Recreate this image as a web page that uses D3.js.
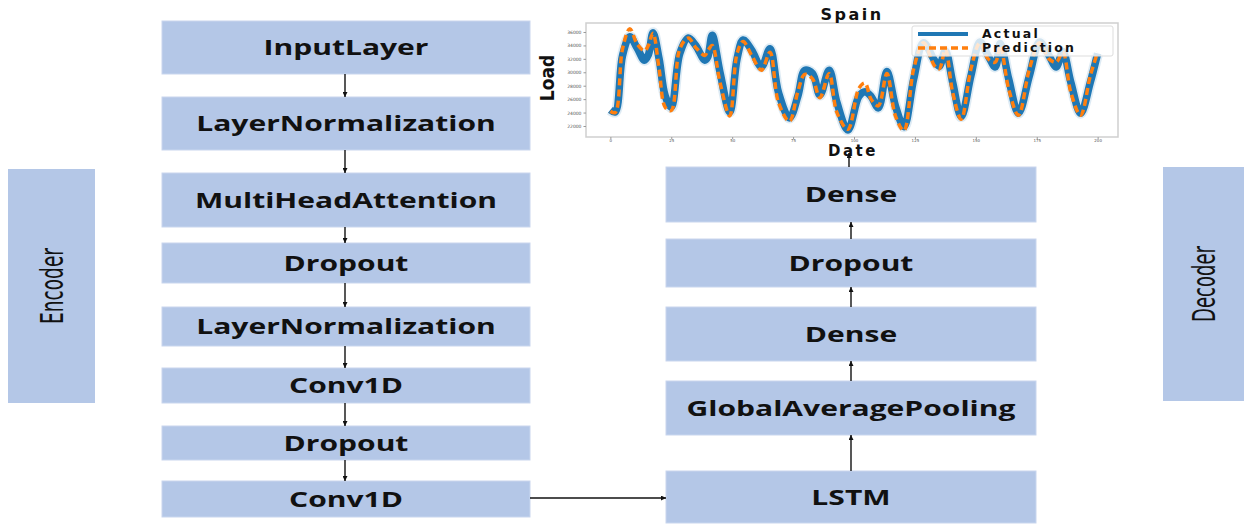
<!DOCTYPE html>
<html>
<head>
<meta charset="utf-8">
<script src="https://cdn.jsdelivr.net/npm/d3@7"></script>
<style>
  body { margin: 0; background: #fff; }
  svg { display: block; }
</style>
</head>
<body>
<svg id="fig" width="1244" height="525"></svg>
<script>
// encoder / decoder layers
const encoderLayers = ["InputLayer", "LayerNormalization", "MultiHeadAttention", "Dropout",
  "LayerNormalization", "Conv1D", "Dropout", "Conv1D"];
const decoderLayers = ["Dense", "Dropout", "Dense", "GlobalAveragePooling", "LSTM"];

// inset chart data (Spain load)
const dates = [0, 2, 5, 8, 11, 14, 15.6, 17.5, 20, 22.5, 25, 28.5, 32, 35, 38.8, 40, 41.8, 45, 49, 52,
  54.5, 58, 62, 65.5, 69, 73.5, 77, 79.8, 83, 86, 89.8, 93, 97.5, 102, 104.5, 107, 110, 113.5, 117,
  120.5, 124.5, 128.5, 133, 135, 137.5, 140.5, 144, 148, 151.7, 155, 158, 160, 163.5, 167.5, 172,
  176.2, 180, 183, 185.7, 189, 193, 197, 200];
const actual = [24400, 24100, 32500, 35300, 33600, 31800, 32600, 35900, 32000, 26500, 24800, 32800,
  35100, 34000, 31800, 32300, 35500, 30000, 24100, 32000, 34800, 33300, 30800, 33500, 27000, 23200,
  26500, 30300, 29800, 26600, 30300, 25500, 21400, 26400, 27100, 26400, 24700, 30100, 25000, 21900,
  29000, 34400, 31800, 30900, 33200, 28500, 23400, 29500, 34500, 32500, 30800, 34300, 29000, 23900,
  29500, 34500, 32500, 30800, 33100, 28500, 23900, 28500, 32800];
const prediction = [24200, 24000, 33500, 36500, 34200, 33200, 34000, 35800, 30500, 24800, 24300, 33500,
  35100, 33700, 32500, 33200, 34000, 28500, 23500, 32800, 34600, 32500, 30300, 33000, 25500, 22700,
  27200, 29700, 29000, 26200, 29800, 24000, 21500, 27600, 28400, 26000, 25000, 29800, 23500, 21300,
  30500, 34400, 31000, 30500, 33400, 27000, 23000, 30500, 34400, 32000, 31500, 34000, 27500, 23600,
  30500, 34400, 32000, 31500, 33000, 27000, 23600, 29500, 33000];
const xTicks = [0, 25, 50, 75, 100, 125, 150, 175, 200];
const yTicks = [22000, 24000, 26000, 28000, 30000, 32000, 34000, 36000];

const svg = d3.select("#fig");
const boxFill = "#b4c7e7";
const stretch = 1.43;

svg.append("defs").append("marker")
  .attr("id", "head")
  .attr("viewBox", "0 0 10 10")
  .attr("refX", 10).attr("refY", 5)
  .attr("markerWidth", 5).attr("markerHeight", 5)
  .attr("markerUnits", "userSpaceOnUse")
  .attr("orient", "auto")
  .append("path").attr("d", "M0,0L10,5L0,10Z").attr("fill", "#111");

function stretchText(sel, factor) {
  sel.each(function() {
    const w = this.getComputedTextLength();
    d3.select(this).attr("textLength", w * factor).attr("lengthAdjust", "spacingAndGlyphs");
  });
}

function drawLayer(x0, x1, y0, y1, name) {
  svg.append("rect")
    .attr("x", x0).attr("y", y0)
    .attr("width", x1 - x0).attr("height", y1 - y0)
    .attr("fill", boxFill)
    .attr("stroke", "#c9d6ee").attr("stroke-width", 1);
  svg.append("text")
    .attr("x", (x0 + x1) / 2).attr("y", (y0 + y1) / 2 + 7.5)
    .attr("text-anchor", "middle")
    .attr("font-family", "'Open Sans', sans-serif")
    .attr("font-weight", 700)
    .attr("font-size", 21)
    .attr("fill", "#111")
    .text(name)
    .call(stretchText, stretch);
}

function arrow(x1, y1, x2, y2) {
  svg.append("line")
    .attr("x1", x1).attr("y1", y1).attr("x2", x2).attr("y2", y2)
    .attr("stroke", "#111").attr("stroke-width", 1.4)
    .attr("marker-end", "url(#head)");
}

// encoder column
const encRows = [[21, 74], [97, 150], [173, 227], [243, 283], [307, 346], [368, 403], [426, 460], [481, 517]];
encoderLayers.forEach((name, i) => {
  drawLayer(162, 530, encRows[i][0], encRows[i][1], name);
  if (i > 0) arrow(345, encRows[i - 1][1], 345, encRows[i][0]);
});

// decoder column
const decRows = [[167, 222], [239, 287], [307, 361], [381, 435], [471, 523]];
decoderLayers.forEach((name, i) => {
  drawLayer(666, 1036, decRows[i][0], decRows[i][1], name);
  if (i > 0) arrow(851, decRows[i][0], 851, decRows[i - 1][1]);
});
arrow(530, 498, 666, 498);
arrow(849, 167, 849, 153);

// side labels
function sideBox(x0, x1, y0, y1, label) {
  svg.append("rect")
    .attr("x", x0).attr("y", y0)
    .attr("width", x1 - x0).attr("height", y1 - y0)
    .attr("fill", boxFill);
  const cx = (x0 + x1) / 2, cy = (y0 + y1) / 2;
  svg.append("text")
    .attr("transform", `translate(${cx + 11},${cy}) rotate(-90)`)
    .attr("text-anchor", "middle")
    .attr("font-family", "'Liberation Sans Narrow', 'DejaVu Sans Condensed', sans-serif")
    .attr("font-size", 32)
    .attr("fill", "#111")
    .text(label)
    .attr("textLength", 76).attr("lengthAdjust", "spacingAndGlyphs");
}
sideBox(8, 95, 169, 403, "Encoder");
sideBox(1163, 1244, 167, 401, "Decoder");

// inset chart
const plot = { left: 586, right: 1118, top: 23, bottom: 137 };
const x = d3.scaleLinear().domain([-10, 210]).range([plot.left, plot.right + 4]);
const y = d3.scaleLinear().domain([20360, 37340]).range([plot.bottom, plot.top]);

const chart = svg.append("g");
chart.append("rect")
  .attr("x", plot.left).attr("y", plot.top)
  .attr("width", plot.right - plot.left).attr("height", plot.bottom - plot.top)
  .attr("fill", "#fff").attr("stroke", "#cfcfcf").attr("stroke-width", 1.5);

chart.append("g")
  .attr("transform", `translate(0,${plot.bottom})`)
  .call(d3.axisBottom(x).tickValues(xTicks).tickSize(2).tickPadding(0.5))
  .call(g => g.select(".domain").remove())
  .call(g => g.selectAll("line").attr("stroke", "#999"))
  .call(g => g.selectAll("text").attr("font-size", 4).attr("fill", "#555").attr("font-family", "DejaVu Sans"));

chart.append("g")
  .attr("transform", `translate(${plot.left},0)`)
  .call(d3.axisLeft(y).tickValues(yTicks).tickSize(2.5).tickPadding(2).tickFormat(d3.format("d")))
  .call(g => g.select(".domain").remove())
  .call(g => g.selectAll("line").attr("stroke", "#999"))
  .call(g => g.selectAll("text").attr("font-size", 4.5).attr("fill", "#555").attr("font-family", "DejaVu Sans"));

const line = d3.line()
  .x((d, i) => x(dates[i]))
  .y(d => y(d))
  .curve(d3.curveCatmullRom.alpha(0.5));

chart.append("path").datum(actual)
  .attr("d", line).attr("fill", "none")
  .attr("stroke", "#1f77b4").attr("stroke-opacity", 0.15)
  .attr("stroke-width", 11).attr("stroke-linejoin", "round");
chart.append("path").datum(actual)
  .attr("d", line).attr("fill", "none")
  .attr("stroke", "#1f77b4").attr("stroke-width", 7.5).attr("stroke-linejoin", "round");
chart.append("path").datum(prediction)
  .attr("d", line).attr("fill", "none")
  .attr("stroke", "#ff7f0e").attr("stroke-width", 3.5)
  .attr("stroke-dasharray", "7,4");

// legend
const lg = chart.append("g");
lg.append("rect")
  .attr("x", 912).attr("y", 26).attr("width", 201).attr("height", 30).attr("rx", 2)
  .attr("fill", "#fff").attr("fill-opacity", 0.8).attr("stroke", "#ddd");
lg.append("line").attr("x1", 918).attr("x2", 968).attr("y1", 34).attr("y2", 34)
  .attr("stroke", "#1f77b4").attr("stroke-width", 4);
lg.append("line").attr("x1", 918).attr("x2", 968).attr("y1", 48).attr("y2", 48)
  .attr("stroke", "#ff7f0e").attr("stroke-width", 3.5).attr("stroke-dasharray", "7,4");
[["Actual", 38], ["Prediction", 52]].forEach(([t, ty]) => {
  lg.append("text").attr("x", 982).attr("y", ty)
    .attr("font-family", "DejaVu Sans").attr("font-weight", 700)
    .attr("font-size", 12.5).attr("letter-spacing", 2.2).attr("fill", "#111")
    .text(t);
});

// chart labels
chart.append("text").attr("x", 852).attr("y", 20)
  .attr("text-anchor", "middle").attr("font-family", "DejaVu Sans").attr("font-weight", 700)
  .attr("font-size", 16).attr("letter-spacing", 2.5).attr("fill", "#111").text("Spain");
chart.append("text").attr("x", 853).attr("y", 156)
  .attr("text-anchor", "middle").attr("font-family", "DejaVu Sans").attr("font-weight", 700)
  .attr("font-size", 15).attr("letter-spacing", 2.5).attr("fill", "#111").text("Date");
chart.append("text")
  .attr("transform", "translate(554,78) rotate(-90)")
  .attr("text-anchor", "middle")
  .attr("font-family", "'Liberation Sans Narrow', 'DejaVu Sans Condensed', sans-serif")
  .attr("font-weight", 700).attr("font-size", 19).attr("fill", "#111").text("Load");
</script>
</body>
</html>
